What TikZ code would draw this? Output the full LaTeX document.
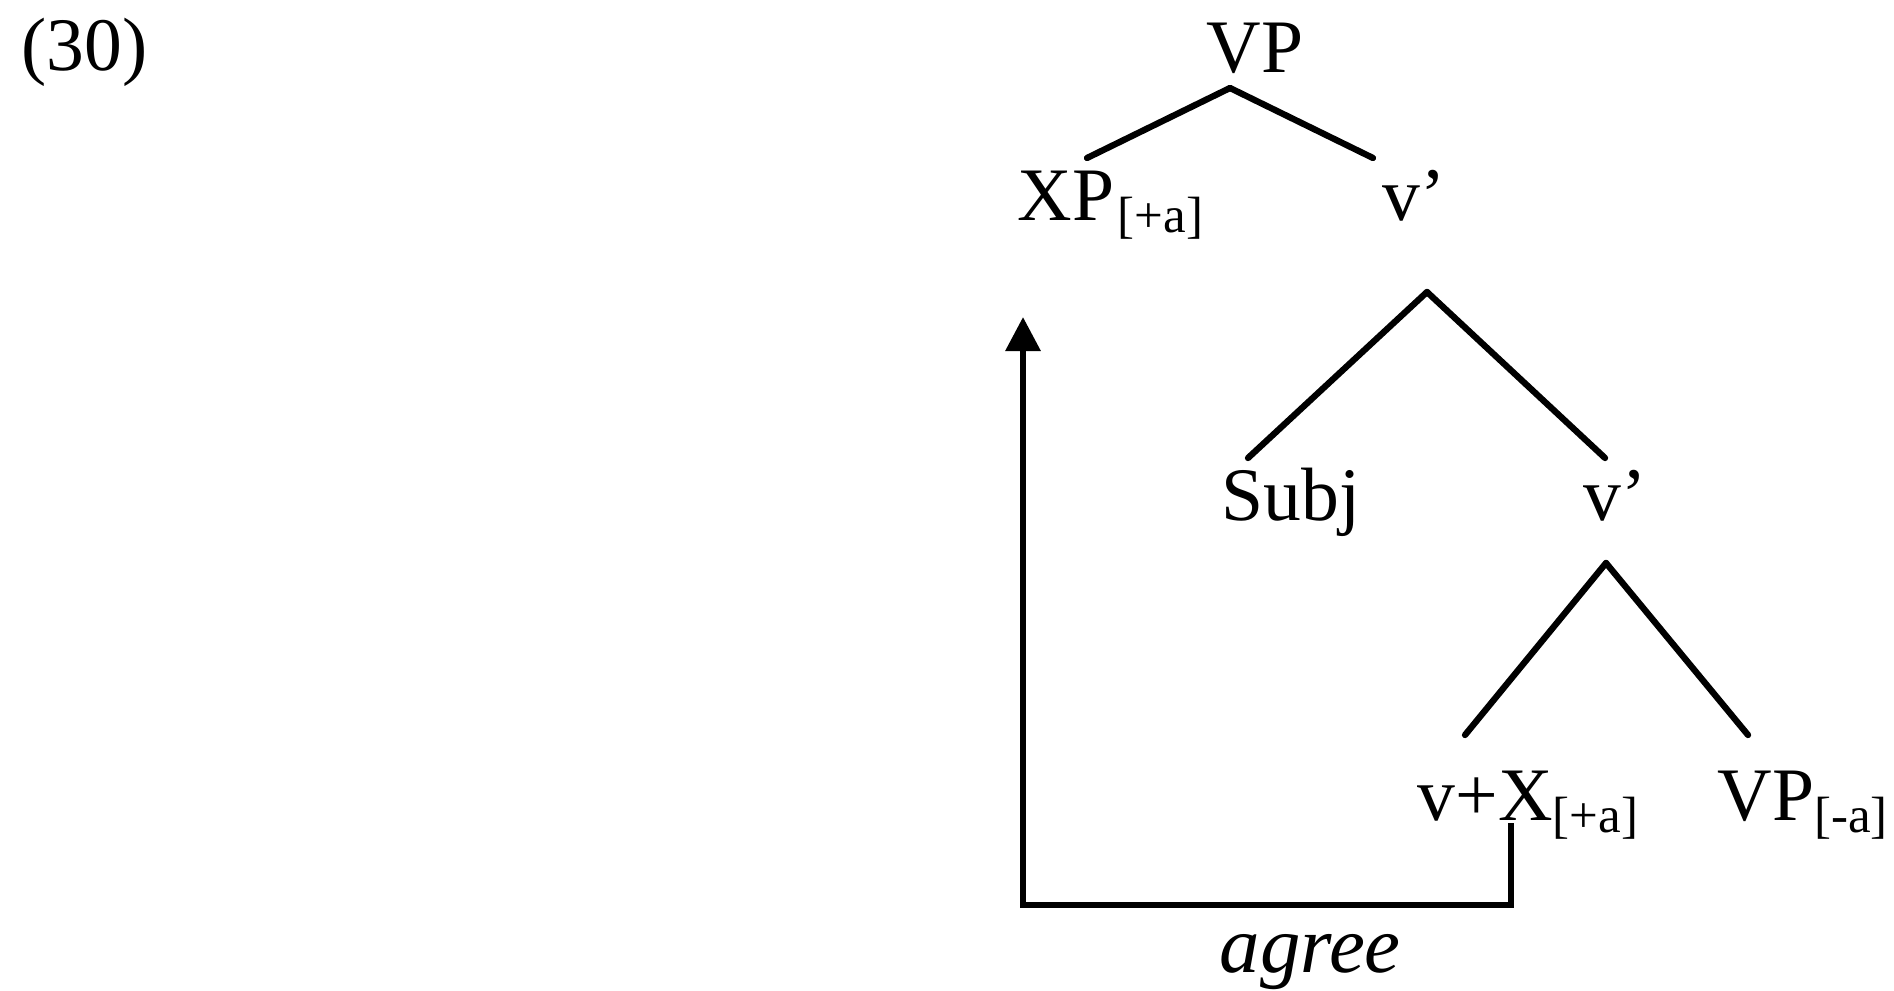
\documentclass[tikz,border=0pt]{standalone}
\usepackage{fontspec}
\setmainfont{Liberation Serif}
\usepackage{tikz}
\usetikzlibrary{arrows.meta, positioning, calc}

\newcommand{\feat}[1]{\raisebox{-0.12cm}{\fontsize{14.5}{16}\selectfont #1}}

\begin{document}
\begin{tikzpicture}[
  cat/.style={
    anchor=base west,
    inner sep=0pt,
    font=\fontsize{21.5}{25}\selectfont
  },
  branch/.style={line width=1.8pt, line cap=round},
  agreearrow/.style={-{Triangle[length=0.34cm, width=0.34cm]}, line width=1.8pt}
]

\useasboundingbox (0,0) rectangle (18.94,-9.90);

\node[cat] (ex) at (0.21,-0.70) {(30)};

\node[cat] (VP) at (12.06,-0.72) {VP};

\node[cat] (XP) at (10.17,-2.20) {XP\kern1pt\feat{[+a]}};

\node[cat] (vbar) at (13.82,-2.20) {v’};

\node[cat] (Subj) at (12.21,-5.20) {Subj};

\node[cat] (vbarlow) at (15.83,-5.20) {v’};

\node[cat] (vX) at (14.17,-8.20) {v+X\feat{[+a]}};

\node[cat] (VPlow) at (17.17,-8.20) {VP\feat{[-a]}};

\node[cat, font=\fontsize{23}{27}\selectfont\itshape] (agree) at (12.19,-9.72) {agree};

% tree branches
\draw[branch] ([shift={(0.24,-0.16)}]VP.base west) -- ([shift={(0.70,0.62)}]XP.base west);
\draw[branch] ([shift={(0.24,-0.16)}]VP.base west) -- ([shift={(-0.09,0.62)}]vbar.base west);

\draw[branch] ([shift={(0.45,-0.72)}]vbar.base west) -- ([shift={(0.27,0.62)}]Subj.base west);
\draw[branch] ([shift={(0.45,-0.72)}]vbar.base west) -- ([shift={(0.22,0.62)}]vbarlow.base west);

\draw[branch] ([shift={(0.23,-0.43)}]vbarlow.base west) -- ([shift={(0.48,0.85)}]vX.base west);
\draw[branch] ([shift={(0.23,-0.43)}]vbarlow.base west) -- ([shift={(0.31,0.85)}]VPlow.base west);

% agree relation
\draw[agreearrow] ([shift={(0.94,-0.03)}]vX.base west) -- ++(0,-0.82)
  -| ([shift={(0.06,-0.97)}]XP.base west);

\end{tikzpicture}
\end{document}
